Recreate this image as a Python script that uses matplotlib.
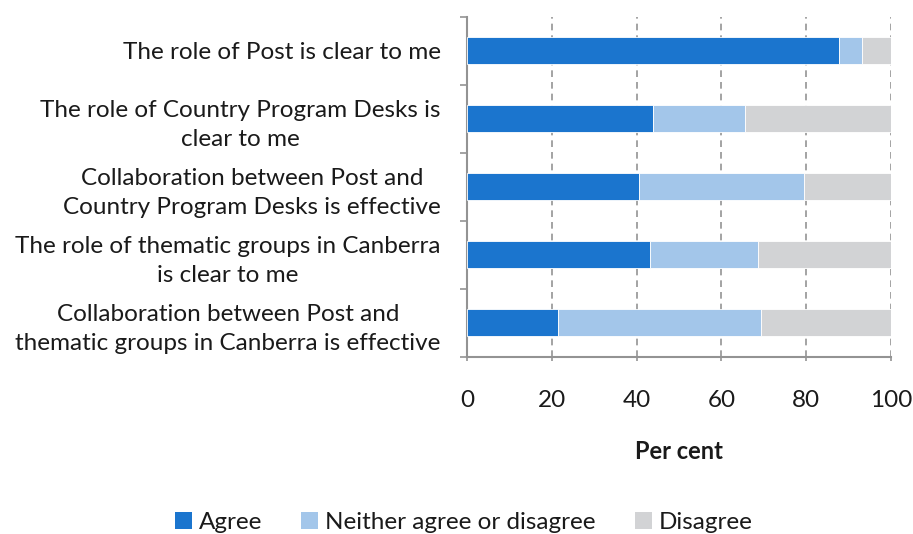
import numpy as np
import matplotlib.pyplot as plt
from matplotlib.patches import Patch

plt.rcParams['font.family'] = ['Lato', 'DejaVu Sans']

# Survey statements, top to bottom
statements = [
    "The role of Post is clear to me",
    "The role of Country Program Desks is\nclear to me",
    "Collaboration between Post and\nCountry Program Desks is effective",
    "The role of thematic groups in Canberra\nis clear to me",
    "Collaboration between Post and\nthematic groups in Canberra is effective",
]
agree = [87.7, 43.8, 40.5, 43.1, 21.4]
neither = [5.5, 21.7, 39.0, 25.6, 47.9]
disagree = [6.8, 34.5, 20.5, 31.3, 30.7]

series_names = ["Agree", "Neither agree or disagree", "Disagree"]
colors = ["#1b75ce", "#a3c6ea", "#d2d3d5"]
x_ticks = [0, 20, 40, 60, 80, 100]

fig = plt.figure(figsize=(9.13, 5.34), dpi=100)
ax = fig.add_axes([0.5115, 0.332, 0.4645, 0.6367])

y = np.arange(len(statements))
left = np.zeros(len(statements))
for vals, name, c in zip([agree, neither, disagree], series_names, colors):
    ax.barh(y, vals, left=left, height=0.4, color=c, edgecolor='white',
            linewidth=0.6, label=name, zorder=3)
    left += np.array(vals)

ax.set_xlim(0, 100)
ax.set_ylim(len(statements) - 0.5, -0.5)
ax.set_xticks(x_ticks)
ax.set_xticklabels([str(v) for v in x_ticks], fontsize=17.5, color='#1a1a1a')
ax.set_yticks(y)
ax.set_yticklabels(statements, fontsize=17.5, color='#1a1a1a',
                   multialignment='center', linespacing=1.5)
ax.set_yticks(np.arange(-0.5, len(statements)), minor=True)

ax.tick_params(axis='y', which='major', length=0, pad=19)
ax.tick_params(axis='y', which='minor', length=5, width=1.2, color='#939393', direction='out')
ax.tick_params(axis='x', length=3, width=1.2, color='#939393', pad=21)

ax.grid(axis='x', color='#939393', linestyle=(0, (4, 3)), linewidth=1.2, zorder=0)
for side in ['top', 'right']:
    ax.spines[side].set_visible(False)
for side in ['left', 'bottom']:
    ax.spines[side].set_color('#939393')
    ax.spines[side].set_linewidth(1.5)

ax.set_xlabel("Per cent", fontsize=17, fontweight='bold', color='#1a1a1a', labelpad=21)

handles = [Patch(facecolor=c) for c in colors]
fig.legend(handles, series_names, loc='lower center', bbox_to_anchor=(0.508, -0.04),
           ncol=3, frameon=False, fontsize=17.5, handlelength=0.7, handleheight=0.7,
           handletextpad=0.3, columnspacing=1.6, labelcolor='#1a1a1a')

fig.savefig("out.png", dpi=100)
